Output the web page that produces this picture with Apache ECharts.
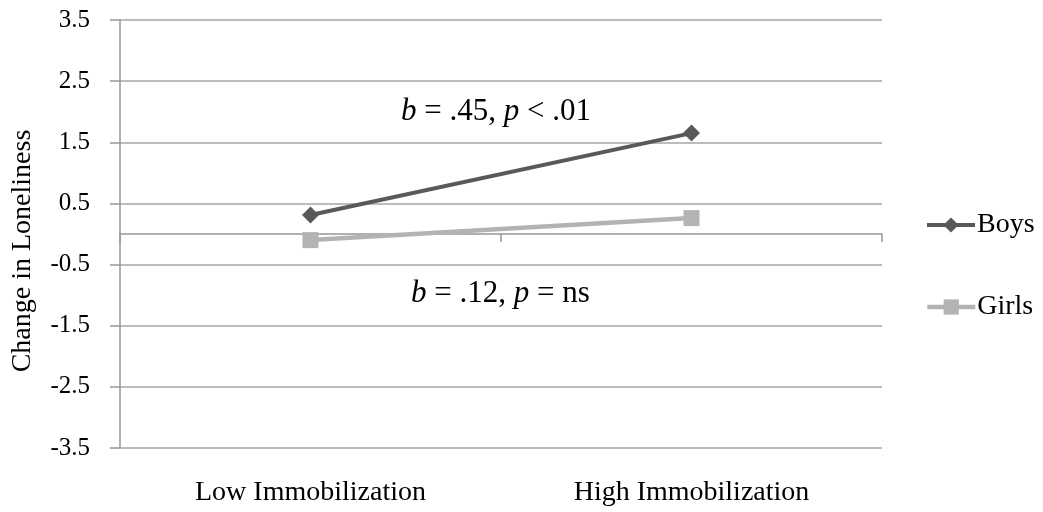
<!DOCTYPE html>
<html>
<head>
<meta charset="utf-8">
<script src="https://cdn.jsdelivr.net/npm/echarts@6/dist/echarts.min.js"></script>
<style>
html,body{margin:0;padding:0;background:#fff;}
#chart{width:1043px;height:512px;}
</style>
</head>
<body>
<div id="chart"></div>
<script>
var categories = ['Low Immobilization', 'High Immobilization'];
var boys = [0.31, 1.65];
var girls = [-0.10, 0.26];
var yTicks = [-3.5, -2.5, -1.5, -0.5, 0.5, 1.5, 2.5, 3.5];
var yTitle = 'Change in Loneliness';
var noteBoys = ['b', ' = .45, ', 'p', ' < .01'];
var noteGirls = ['b', ' = .12, ', 'p', ' = ns'];

var FONT = 'Liberation Serif';
var chart = echarts.init(document.getElementById('chart'), null, {renderer: 'canvas'});

function rich(parts) {
  return '{i|' + parts[0] + '}{n|' + parts[1] + '}{i|' + parts[2] + '}{n|' + parts[3] + '}';
}
var richStyle = {
  i: {fontFamily: FONT, fontSize: 31, fontStyle: 'italic', fill: '#000'},
  n: {fontFamily: FONT, fontSize: 31, fill: '#000'}
};

var option = {
  animation: false,
  backgroundColor: '#fff',
  grid: {left: 120, right: 161, top: 20, bottom: 64, outerBoundsMode: 'none', containLabel: false},
  legend: [
    {data: ['Boys'], left: 920, top: 206, itemWidth: 48, itemHeight: 19,
     lineStyle: {width: 4},
     textStyle: {fontFamily: FONT, fontSize: 28, color: '#000', padding: [0,0,0,-3]}},
    {data: ['Girls'], left: 920, top: 288, itemWidth: 48, itemHeight: 19,
     lineStyle: {width: 4.5},
     textStyle: {fontFamily: FONT, fontSize: 28, color: '#000', padding: [0,0,0,-3]}}
  ],
  xAxis: [
    {type: 'category', data: categories, boundaryGap: true,
     axisLine: {onZero: true, lineStyle: {color: '#969696', width: 1.5}},
     axisTick: {show: true, length: 8, lineStyle: {color: '#969696', width: 1.5}},
     axisLabel: {show: false}, splitLine: {show: false}},
    {type: 'category', data: categories, position: 'bottom', boundaryGap: true,
     axisLine: {show: false}, axisTick: {show: false}, splitLine: {show: false},
     axisLabel: {margin: 31, fontFamily: FONT, fontSize: 28, color: '#000'}}
  ],
  yAxis: {
    type: 'value', min: -3.5, max: 3.5, interval: 1,
    name: yTitle, nameLocation: 'middle', nameGap: 83,
    nameTextStyle: {fontFamily: FONT, fontSize: 28, color: '#000', padding: [0, 34, 0, 0]},
    axisLine: {show: true, lineStyle: {color: '#969696', width: 1.5}},
    axisTick: {show: true, length: 10, lineStyle: {color: '#969696', width: 1.5}},
    axisLabel: {margin: 30, fontFamily: FONT, fontSize: 25, color: '#000',
      formatter: function (v) { return yTicks.indexOf(+v.toFixed(1)) >= 0 ? v.toFixed(1) : ''; }},
    splitLine: {show: true, lineStyle: {color: '#a6a6a6', width: 1.5}}
  },
  series: [
    {name: 'Boys', type: 'line', data: boys, xAxisIndex: 0,
     symbol: 'diamond', symbolSize: 17,
     lineStyle: {color: '#595959', width: 4}, itemStyle: {color: '#595959'}},
    {name: 'Girls', type: 'line', data: girls, xAxisIndex: 0,
     symbol: 'rect', symbolSize: 16,
     lineStyle: {color: '#b3b3b3', width: 4.5}, itemStyle: {color: '#b3b3b3'}}
  ],
  graphic: [
    {type: 'text', left: 401, top: 96, style: {text: rich(noteBoys), rich: richStyle, fontFamily: FONT, fontSize: 31}},
    {type: 'text', left: 411, top: 278, style: {text: rich(noteGirls), rich: richStyle, fontFamily: FONT, fontSize: 31}}
  ]
};
chart.setOption(option);
</script>
</body>
</html>
